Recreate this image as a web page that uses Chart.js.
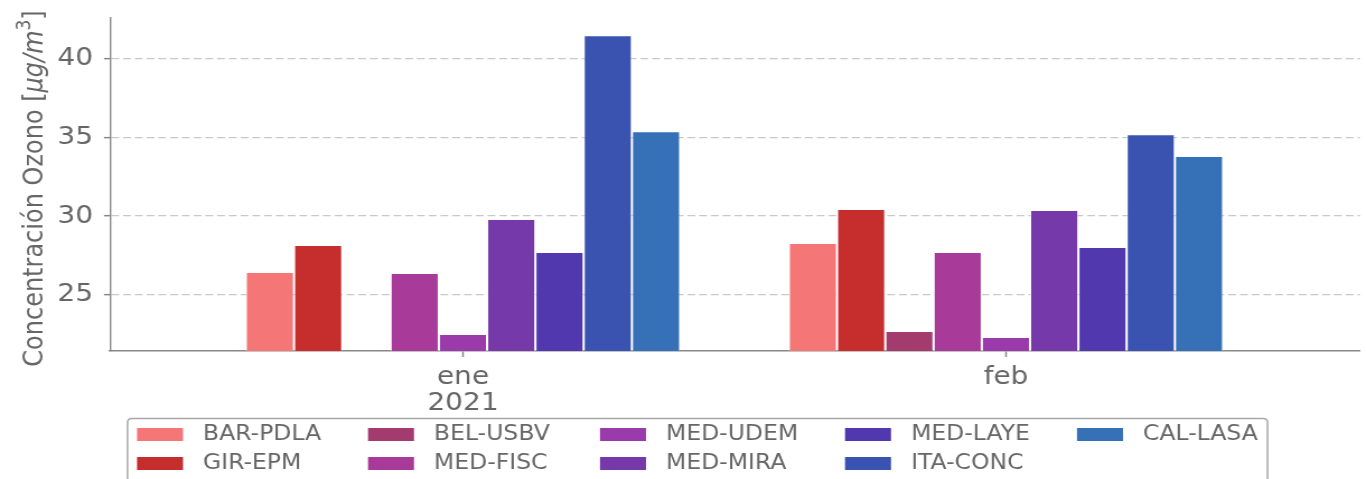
<!DOCTYPE html>
<html><head><meta charset="utf-8">
<script src="https://cdn.jsdelivr.net/npm/chart.js@4.4.0/dist/chart.umd.min.js"></script>
<style>
html,body{margin:0;padding:0;background:#fff;overflow:hidden}
#outer{width:1366px;height:479px;overflow:hidden;position:relative}
#wrap{width:1220px;height:479px;position:absolute;left:0;top:0;transform-origin:0 0;transform:scaleX(1.119672)}
</style>
</head><body><div id="outer"><div id="wrap"><canvas id="c"></canvas></div></div>
<script>
// ---- data ----
const months = ['ene', 'feb'];
const yearLabel = '2021';
const stations = ['BAR-PDLA', 'GIR-EPM', 'BEL-USBV', 'MED-FISC', 'MED-UDEM', 'MED-MIRA', 'MED-LAYE', 'ITA-CONC', 'CAL-LASA'];
const barPdla = [26.46, 28.29];
const girEpm  = [28.16, 30.44];
const belUsbv = [null, 22.72];
const medFisc = [26.39, 27.72];
const medUdem = [22.53, 22.34];
const medMira = [29.81, 30.38];
const medLaye = [27.72, 28.04];
const itaConc = [41.46, 35.19];
const calLasa = [35.38, 33.80];
const yTicks = [25, 30, 35, 40];

// ---- styles / layout ----
const S = 1366 / 1220;            // horizontal stretch of the picture
const hx = v => v / S;            // convert horizontal picture px into canvas px
const seriesValues = [barPdla, girEpm, belUsbv, medFisc, medUdem, medMira, medLaye, itaConc, calLasa];
const colors = ['#f47676', '#c62d2d', '#a33b6f', '#a83a99', '#9a3aab', '#7539a9', '#5138ae', '#3a53b1', '#3670b6'];
const textColor = '#666666';
const axisColor = '#888888';
const FONT = '"DejaVu Sans", sans-serif';

const datasets = stations.map((name, k) => ({
  label: name,
  data: seriesValues[k].map((v, i) => ({ x: i, y: v })),
  backgroundColor: colors[k],
  borderColor: 'rgba(255,255,255,0.6)',
  borderWidth: 1,
  borderSkipped: 'start',
  categoryPercentage: 0.8,
  barPercentage: 1.0
}));

const yTitlePlugin = {
  id: 'yTitle',
  afterDraw(chart) {
    const ctx = chart.ctx;
    const size = 24;
    const segs = [
      { t: 'Concentración Ozono [', f: `${size}px ${FONT}`, dy: 0 },
      { t: 'μg/m', f: `italic ${size}px ${FONT}`, dy: 0 },
      { t: '3', f: `${Math.round(size * 0.7)}px ${FONT}`, dy: -size * 0.42 },
      { t: ']', f: `${size}px ${FONT}`, dy: 0 }
    ];
    ctx.save();
    let total = 0;
    segs.forEach(s => { ctx.font = s.f; s.w = ctx.measureText(s.t).width; total += s.w; });
    const cy = (chart.chartArea.top + chart.chartArea.bottom) / 2 + 4;
    ctx.translate(hx(42), cy);
    ctx.rotate(-Math.PI / 2);
    ctx.fillStyle = textColor;
    ctx.textBaseline = 'alphabetic';
    let x = -total / 2;
    segs.forEach(s => { ctx.font = s.f; ctx.fillText(s.t, x, s.dy); x += s.w; });
    ctx.restore();
  }
};

const boxLegendPlugin = {
  id: 'boxLegend',
  afterDraw(chart) {
    const ctx = chart.ctx;
    ctx.save();
    const fx = hx(127.5), fy = 418.5, fw = hx(1140), fh = 100, r = 4;
    ctx.strokeStyle = '#a8a8a8';
    ctx.lineWidth = 1.5;
    ctx.beginPath();
    ctx.moveTo(fx + r, fy);
    ctx.lineTo(fx + fw - r, fy);
    ctx.quadraticCurveTo(fx + fw, fy, fx + fw, fy + r);
    ctx.lineTo(fx + fw, fy + fh);
    ctx.moveTo(fx, fy + fh);
    ctx.lineTo(fx, fy + r);
    ctx.quadraticCurveTo(fx, fy, fx + r, fy);
    ctx.stroke();
    const colX = [137, 368, 600, 845, 1077];
    const rowY = [434, 463];
    ctx.font = `21px ${FONT}`;
    ctx.textBaseline = 'middle';
    stations.forEach((name, k) => {
      const c = Math.floor(k / 2), rr = k % 2;
      ctx.fillStyle = colors[k];
      ctx.fillRect(hx(colX[c]), rowY[rr] - 6, hx(46), 13);
      ctx.fillStyle = textColor;
      ctx.fillText(name, hx(colX[c] + 66), rowY[rr] + 1);
    });
    ctx.restore();
  }
};

new Chart(document.getElementById('c'), {
  type: 'bar',
  data: { datasets },
  options: {
    responsive: true,
    maintainAspectRatio: false,
    animation: false,
    devicePixelRatio: 1,
    layout: { padding: { left: 0, right: hx(6), top: 18, bottom: 0 } },
    plugins: { legend: { display: false }, tooltip: { enabled: false }, title: { display: false } },
    scales: {
      x: {
        type: 'linear',
        offset: false,
        min: -0.65,
        max: 1.652,
        afterBuildTicks: s => { s.ticks = months.map((m, i) => ({ value: i })); },
        ticks: {
          callback: v => (v === 0 ? [months[0], yearLabel] : months[v]),
          font: { family: FONT, size: 25, lineHeight: 1.05 },
          color: textColor,
          padding: 7,
          maxRotation: 0,
          autoSkip: false
        },
        grid: { offset: false, drawOnChartArea: false, drawTicks: true, tickLength: 6, tickColor: axisColor, tickWidth: 1.5 },
        border: { display: true, color: axisColor, width: 1.5 },
        afterFit: s => { s.height = 128; s.paddingLeft = 0; s.paddingRight = 0; }
      },
      y: {
        min: 21.45,
        max: 42.55,
        afterBuildTicks: s => { s.ticks = yTicks.map(v => ({ value: v })); },
        ticks: { font: { family: FONT, size: 25 }, color: textColor, padding: hx(11) },
        grid: { color: '#c8c8c8', lineWidth: 1.3, tickColor: axisColor, tickLength: hx(6), tickWidth: 1.5, tickBorderDash: [] },
        border: { display: true, color: axisColor, width: 1.4, dash: [7, 3.5] },
        afterFit: s => { s.width = hx(110); s.paddingTop = 0; s.paddingBottom = 0; }
      }
    }
  },
  plugins: [yTitlePlugin, boxLegendPlugin]
});
</script>
</body></html>
